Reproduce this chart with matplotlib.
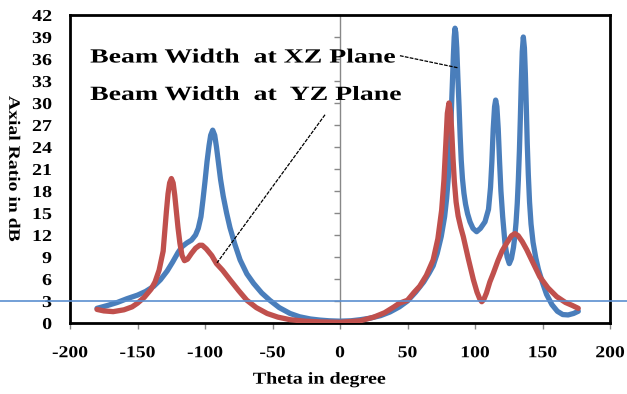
import matplotlib
matplotlib.use('Agg')
import matplotlib.pyplot as plt
from matplotlib.patheffects import AbstractPathEffect
from matplotlib.transforms import Affine2D

# Axial ratio vs theta
theta_xz = [-180, -172, -165, -158, -150, -144, -138, -133, -128, -124, -120, -117, -113.6,
            -110, -107, -105, -103, -101.5, -100, -98.5, -97, -95.8, -94.3, -92.8, -91.5,
            -90, -88.5, -86.5, -84, -81.5, -78, -74, -69, -64, -58, -52, -45, -37, -30, -22,
            -15, -8, 0, 8, 15, 22, 30, 37, 44, 50, 56, 62, 66, 69, 72, 75, 77.5, 79, 80.3, 81.3,
            82.2, 83.1, 84, 84.6, 85.2, 85.8, 86.5, 87.3, 88.2, 89, 89.8, 90.7, 91.8, 93, 94.5,
            96.3, 98.5, 101.2, 104, 107.4, 110, 111.5, 112.5, 113.5, 114.5, 115.3, 116.2,
            117.2, 118.2, 119.2, 120.5, 122.2, 123.8, 125.4, 127, 128.5, 129.5, 130.4, 131.3,
            132.1, 132.9, 133.6, 134.3, 135, 135.8, 136.6, 137.3, 138, 138.7, 139.5, 140.4,
            141.5, 143, 145, 147, 150, 153, 157, 161, 165, 169, 173, 176.5]
ar_xz = [2.0, 2.4, 2.8, 3.3, 3.8, 4.3, 5.0, 5.9, 7.1, 8.3, 9.6, 10.4, 10.9,
         11.3, 12.0, 12.9, 14.5, 16.8, 19.3, 22.0, 24.2, 25.6, 26.3, 25.6, 24.0,
         21.8, 19.6, 17.3, 15.0, 13.0, 10.8, 8.6, 6.7, 5.4, 4.1, 3.1, 2.1, 1.3, 0.85, 0.55,
         0.4, 0.3, 0.25, 0.3, 0.45, 0.65, 1.0, 1.5, 2.2, 3.0, 4.2, 5.6, 6.8, 7.8, 9.5, 11.8,
         14.5, 17.0, 20.0, 23.5, 27.5, 32.0, 36.5, 39.0, 40.2, 39.6, 37.5, 33.5, 29.5, 25.5,
         22.2, 19.7, 17.7, 16.2, 14.9, 13.8, 12.9, 12.45, 12.9, 13.8, 15.5, 18.5, 22.0,
         26.5, 29.5, 30.4, 29.5, 26.5, 22.0, 18.0, 14.5, 10.9, 9.0, 8.1, 8.8, 10.3, 11.8,
         13.7, 16.3, 19.5, 23.5, 28.0, 33.0, 37.0, 39.0, 37.5, 34.0, 29.5, 24.5, 20.2,
         16.5, 13.5, 11.0, 8.9, 7.3, 5.5, 3.9, 2.5, 1.6, 1.15, 1.1, 1.3, 1.6]

theta_yz = [-180, -175, -168, -160, -154, -150, -145, -140, -137, -134, -131, -129.8, -128.6,
            -127.4, -126.2, -124.9, -123.6, -122.4, -121.2, -120, -118.6, -117, -115.2, -113,
            -110, -107, -104, -102, -99, -95, -91.5, -87, -81.5, -75, -69, -62, -54, -46, -37,
            -26, -15, 0, 15, 25, 33, 40, 44, 50, 55, 59, 64, 69, 72.5, 75.3, 77, 78.4, 79.5,
            80.7, 81.9, 82.8, 83.7, 84.7, 86, 87.5, 89.5, 91.3, 95, 98.8, 101.5, 103.5, 105,
            106.5, 108.5, 111, 113.6, 117, 120, 123.5, 127, 129.6, 132, 135, 138.3, 143, 148,
            154, 160.5, 167, 172, 176.5]
ar_yz = [1.85, 1.65, 1.55, 1.8, 2.2, 2.7, 3.5, 4.6, 5.6, 7.2, 9.8, 12.5, 15.2,
         17.6, 19.1, 19.7, 19.1, 17.4, 15.2, 13.0, 10.9, 9.2, 8.5, 8.7,
         9.5, 10.2, 10.6, 10.6, 10.1, 9.2, 8.1, 7.2, 5.9, 4.4, 3.1, 2.1, 1.3, 0.8, 0.45,
         0.25, 0.15, 0.1, 0.3, 0.8, 1.4, 2.2, 2.7, 3.1, 4.2, 5.0, 6.5, 8.6, 11.5, 15.4, 19.5,
         24.5, 28.6, 30.0, 28.8, 26.0, 22.5, 19.3, 16.5, 14.6, 13.0, 11.8, 8.8, 5.9, 4.2, 3.3,
         2.9, 3.2, 4.1, 5.6, 6.8, 8.5, 9.8, 10.9, 11.9, 12.2, 11.9, 11.1, 10.0, 8.2, 6.3,
         4.8, 3.6, 2.8, 2.4, 2.0]

threshold_db = 3
x_ticks = list(range(-200, 201, 50))
y_ticks = list(range(0, 43, 3))

label_xz = 'Beam Width  at XZ Plane'
label_yz = 'Beam Width  at  YZ Plane'

blue = '#4a7ebb'
red = '#c0504d'


class Stretch(AbstractPathEffect):
    """Widen text glyphs sideways (the original uses a wide Times-like face)."""

    def __init__(self, sx, anchor='center'):
        super().__init__()
        self.sx = sx
        self.anchor = anchor

    def draw_path(self, renderer, gc, tpath, affine, rgbFace=None):
        ext = tpath.get_extents()
        cx = {'left': ext.x0, 'center': (ext.x0 + ext.x1) / 2, 'right': ext.x1}[self.anchor]
        t = Affine2D().translate(-cx, 0).scale(self.sx, 1).translate(cx, 0)
        renderer.draw_path(gc, tpath, t + affine, rgbFace)


plt.rcParams['font.family'] = ['Liberation Serif', 'DejaVu Serif']
plt.rcParams['font.weight'] = 'bold'
plt.rcParams['axes.unicode_minus'] = False

fig = plt.figure(figsize=(6.27, 3.94), dpi=100)
ax = fig.add_axes([70 / 627, 71 / 394, 540 / 627, 308 / 394])

ax.plot(theta_xz, ar_xz, color=blue, lw=3.8, solid_capstyle='round',
        solid_joinstyle='round', zorder=3)
ax.plot(theta_yz, ar_yz, color=red, lw=3.8, solid_capstyle='round',
        solid_joinstyle='round', zorder=4)

# 3 dB reference line runs across the whole picture
ax.axhline(threshold_db, xmin=-0.13, xmax=1.04, color='#5b8fd0', lw=1.2,
           clip_on=False, zorder=5)

ax.set_xlim(-200, 200)
ax.set_ylim(0, 42)
ax.set_xticks(x_ticks)
ax.set_yticks(y_ticks)

for s in ax.spines.values():
    s.set_linewidth(2)
    s.set_color('black')

ax.tick_params(axis='x', color='#888888', length=4, width=1, pad=12, labelsize=12)
ax.tick_params(axis='y', length=0, pad=13, labelsize=12)
for lab in ax.get_xticklabels():
    lab.set_path_effects([Stretch(1.18, 'center')])
for lab in ax.get_yticklabels():
    lab.set_path_effects([Stretch(1.2, 'right')])

# gray value axis crossing at theta = 0
sec = ax.secondary_yaxis(0, transform=ax.transData)
sec.set_yticks(y_ticks)
sec.set_yticklabels([])
sec.spines['left'].set_color('#888888')
sec.spines['left'].set_linewidth(1)
sec.tick_params(color='#888888', length=4, width=1)

ax.set_xlabel('Theta in degree', fontsize=12, fontweight='bold',
              path_effects=[Stretch(1.2, 'center')])
ax.xaxis.set_label_coords(0.461, -0.158)
ax.set_ylabel('Axial Ratio in dB', fontsize=11.5, fontweight='bold', rotation=270,
              path_effects=[Stretch(1.23, 'center')])
ax.yaxis.set_label_coords(-0.12, 0.5)

ax.text(-185, 36.2, label_xz, fontsize=14.5, fontweight='bold', va='center', ha='left',
        path_effects=[Stretch(1.38, 'left')])
ax.text(-185, 31.1, label_yz, fontsize=14.5, fontweight='bold', va='center', ha='left',
        path_effects=[Stretch(1.38, 'left')])

ax.plot([44.4, 87.4], [36.45, 34.8], color='black', lw=0.9, ls=(0, (3, 1)), zorder=6)
ax.plot([-11.1, -91.1], [28.4, 8.2], color='black', lw=0.9, ls=(0, (3, 1)), zorder=6)

fig.savefig('out.png', dpi=100)
